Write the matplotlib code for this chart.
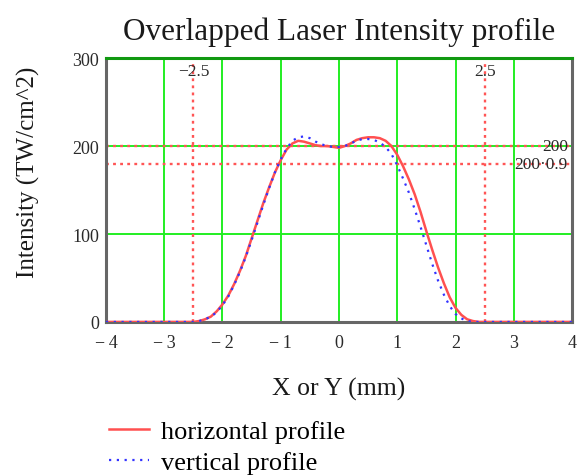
import matplotlib
matplotlib.use("Agg")
import matplotlib.pyplot as plt

x_pos = [-4, -2.6, -2.5, -2.4, -2.3, -2.2, -2.1, -2.0, -1.9, -1.8, -1.7, -1.6, -1.5, -1.4,
         -1.3, -1.2, -1.1, -1.0, -0.9, -0.8, -0.7, -0.6, -0.5, -0.4, -0.3, -0.2, -0.1, 0.0,
         0.1, 0.2, 0.3, 0.4, 0.5, 0.6, 0.7, 0.8, 0.9, 1.0, 1.1, 1.2, 1.3, 1.4, 1.5, 1.6,
         1.7, 1.8, 1.9, 2.0, 2.1, 2.2, 2.3, 2.4, 2.5, 4]
horizontal = [0, 0, 0, 1, 3, 6, 12, 20, 30, 43, 58, 75, 95, 115, 135, 153, 170, 184, 196,
              203, 206, 205, 203, 201, 200, 200, 199, 198, 200, 203, 207, 209, 210, 210, 209,
              206, 200, 190, 177, 162, 145, 125, 103, 82, 62, 44, 28, 16, 8, 3, 1, 0, 0, 0]
vertical = [0, 0, 0, 1, 3, 6, 11, 19, 29, 42, 57, 74, 93, 113, 133, 152, 170, 185, 197,
            206, 210, 211, 209, 205, 202, 200, 199, 199, 200, 203, 206, 208, 208, 207, 204,
            199, 191, 178, 163, 147, 128, 108, 87, 66, 47, 31, 18, 9, 4, 1, 0, 0, 0, 0]

edge_x = [-2.5, 2.5]
edge_labels = ["\u22122.5", "2.5"]
peak = 200
level = 0.9
x_ticks = [-4, -3, -2, -1, 0, 1, 2, 3, 4]
x_labels = ["\u2212\u20094", "\u2212\u20093", "\u2212\u20092", "\u2212\u20091", "0", "1", "2", "3", "4"]
y_ticks = [0, 100, 200, 300]

plt.rcParams['font.family'] = ['Liberation Serif', 'DejaVu Serif']
plt.rcParams['axes.unicode_minus'] = True

fig = plt.figure(figsize=(5.79, 4.77), dpi=100)
ax = fig.add_axes([0.183, 0.323, 0.805, 0.553])

# green grid
for xt in x_ticks:
    ax.axvline(xt, color='#22ee22', lw=1.4, zorder=1)
for yt in y_ticks:
    ax.axhline(yt, color='#22ee22', lw=1.4, zorder=1)

# markers for the 90% level and the +/-2.5 mm edges
red_dot = dict(color='#ff5555', lw=1.7, ls=(0, (1.2, 1.8)), zorder=2)
ax.axhline(peak, **red_dot)
ax.axhline(peak * level, **red_dot)
for xe in edge_x:
    ax.axvline(xe, **red_dot)

txt = dict(fontsize=12.5, color='#2a2a2a', zorder=4)
for xe, lab in zip(edge_x, edge_labels):
    ax.text(xe, 294, lab, ha='center', va='top', **txt)
ax.text(3.93, peak, "200", ha='right', va='center', **txt)
ax.text(3.93, peak * level, "200\u00b70.9", ha='right', va='center', **txt)

ax.plot(x_pos, horizontal, color='#ff5050', lw=1.8, zorder=3, label='horizontal profile')
ax.plot(x_pos, vertical, color='#3333ff', lw=1.6, ls=(0, (1, 2.5)), zorder=3,
        label='vertical profile')

ax.set_xlim(-4, 4)
ax.set_ylim(0, 300)
ax.set_xticks(x_ticks, x_labels)
ax.set_yticks(y_ticks)
ax.tick_params(length=0, labelsize=13, colors='#2a2a2a')
ax.tick_params(axis='y', pad=5)
ax.tick_params(axis='x', pad=9)

for side in ['left', 'bottom', 'right']:
    ax.spines[side].set_color('#666666')
    ax.spines[side].set_linewidth(2.2)
ax.spines['top'].set_color('#119911')
ax.spines['top'].set_linewidth(2.2)

ax.set_title("Overlapped Laser Intensity profile", fontsize=22.5, pad=14, color='#1a1a1a')
ax.set_xlabel("X or Y (mm)", fontsize=18.5, labelpad=18, color='#1a1a1a')
ax.set_ylabel("Intensity (TW/cm^2)", fontsize=18, labelpad=23, color='#1a1a1a', y=0.572)

leg = fig.legend(loc='lower left', bbox_to_anchor=(0.148, -0.046), frameon=False,
                 fontsize=19, handlelength=1.5, handletextpad=0.45, labelspacing=0.28)

fig.savefig("out.png", dpi=100)
